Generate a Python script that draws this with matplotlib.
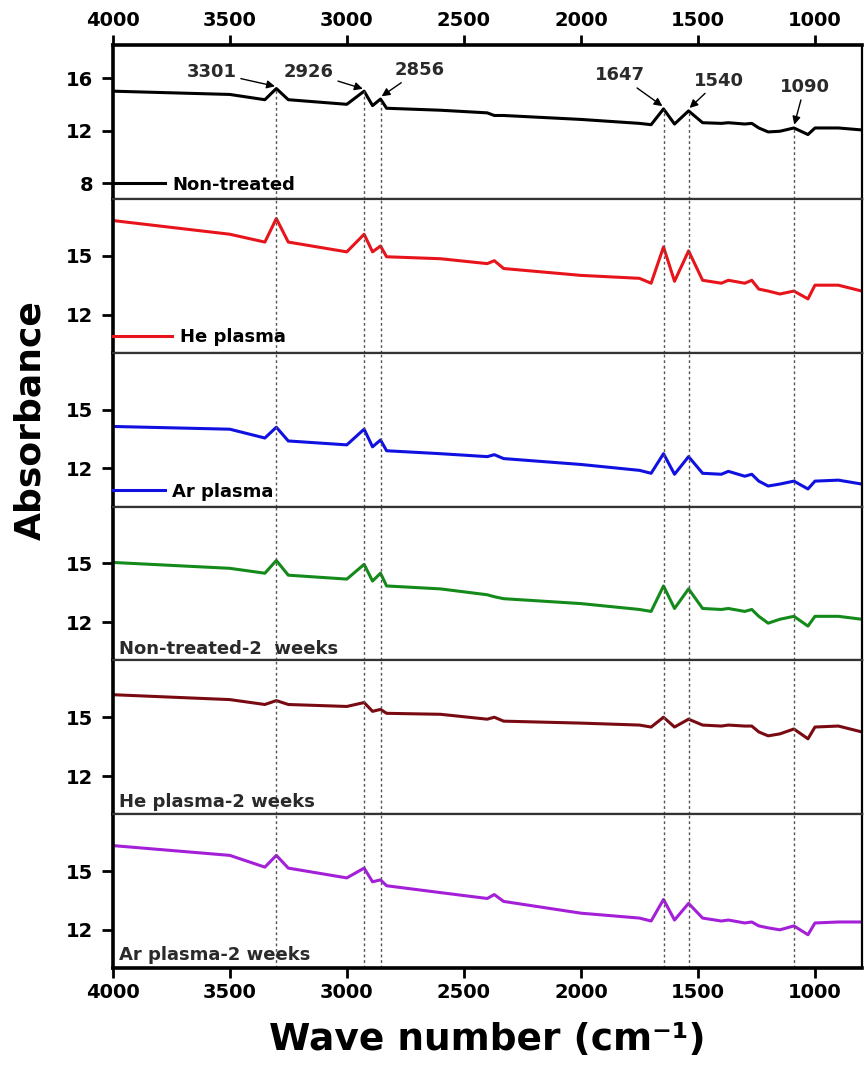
"""
FTIR absorbance spectra of treated and non-treated samples, stacked panels.
"""

import matplotlib
matplotlib.use("Agg")
import matplotlib.pyplot as plt

plt.rcParams["font.family"] = ["DejaVu Sans"]
plt.rcParams["font.weight"] = "bold"

# wavenumber grid (cm-1)
wavenumber = [4000, 3500, 3350, 3301, 3250, 3000, 2926, 2890, 2856, 2830,
              2600, 2400, 2370, 2330, 2000, 1750, 1700, 1647, 1600, 1540,
              1480, 1400, 1370, 1300, 1270, 1240, 1200, 1150, 1090, 1030,
              1000, 900, 800]

non_treated = [15.0, 14.75, 14.35, 15.2, 14.35, 14.0, 15.0, 13.9, 14.4, 13.7,
               13.55, 13.35, 13.15, 13.15, 12.85, 12.55, 12.45, 13.65, 12.5, 13.5,
               12.6, 12.55, 12.6, 12.5, 12.55, 12.2, 11.9, 11.95, 12.2, 11.7,
               12.2, 12.2, 12.05]
he_plasma = [16.8, 16.1, 15.7, 16.9, 15.7, 15.2, 16.1, 15.2, 15.5, 14.95,
             14.85, 14.6, 14.75, 14.35, 14.0, 13.85, 13.6, 15.45, 13.7, 15.25,
             13.75, 13.6, 13.75, 13.6, 13.75, 13.3, 13.2, 13.05, 13.2, 12.8,
             13.5, 13.5, 13.2]
ar_plasma = [14.14, 14.0, 13.55, 14.1, 13.4, 13.2, 14.0, 13.1, 13.45, 12.9,
             12.75, 12.6, 12.7, 12.5, 12.2, 11.9, 11.75, 12.75, 11.7, 12.6,
             11.75, 11.7, 11.85, 11.6, 11.7, 11.35, 11.1, 11.2, 11.35, 10.95,
             11.35, 11.4, 11.2]
non_treated_2w = [15.05, 14.75, 14.5, 15.15, 14.4, 14.2, 14.95, 14.1, 14.5, 13.85,
                  13.7, 13.4, 13.3, 13.2, 12.95, 12.65, 12.55, 13.85, 12.7, 13.7,
                  12.7, 12.65, 12.7, 12.55, 12.65, 12.3, 11.95, 12.15, 12.3, 11.8,
                  12.3, 12.3, 12.15]
he_plasma_2w = [16.15, 15.9, 15.65, 15.85, 15.65, 15.55, 15.75, 15.3, 15.4, 15.2,
                15.15, 14.9, 15.0, 14.8, 14.7, 14.6, 14.5, 15.0, 14.5, 14.9,
                14.6, 14.55, 14.6, 14.55, 14.55, 14.25, 14.05, 14.15, 14.4, 13.9,
                14.5, 14.55, 14.25]
ar_plasma_2w = [16.3, 15.8, 15.2, 15.8, 15.15, 14.65, 15.15, 14.45, 14.55, 14.25,
                13.9, 13.6, 13.8, 13.45, 12.85, 12.6, 12.45, 13.55, 12.5, 13.35,
                12.6, 12.45, 12.5, 12.35, 12.4, 12.2, 12.1, 12.0, 12.2, 11.75,
                12.35, 12.4, 12.4]

labels = ["Non-treated", "He plasma", "Ar plasma",
          "Non-treated-2  weeks", "He plasma-2 weeks", "Ar plasma-2 weeks"]
series = [non_treated, he_plasma, ar_plasma,
          non_treated_2w, he_plasma_2w, ar_plasma_2w]
colors = ["#000000", "#e8141c", "#1010e0", "#138a1a", "#7a0a12", "#a41fd8"]

# marked peaks and where their labels sit (wavenumber, absorbance)
peaks = [3301, 2926, 2856, 1647, 1540, 1090]
peak_values = [15.2, 15.0, 14.4, 13.65, 13.5, 12.2]
peak_text_x = [3577, 3162, 2690, 1835, 1412, 1045]
peak_text_y = [16.45, 16.45, 16.6, 16.2, 15.8, 15.33]

fig, axes = plt.subplots(6, 1, figsize=(8.67, 10.75), dpi=100, sharex=True,
                         gridspec_kw={"hspace": 0})
fig.subplots_adjust(left=0.130, right=0.994, top=0.958, bottom=0.0995)

for i, ax in enumerate(axes):
    line, = ax.plot(wavenumber, series[i], color=colors[i], lw=2.2)

    if i == 0:
        ax.set_ylim(6.8, 18.5)
        ax.set_yticks([8, 12, 16])
        ax.vlines(peaks, 6.8, peak_values, colors="#555555",
                  linestyles=(0, (2, 2)), lw=1)
        for p, v, tx, ty in zip(peaks, peak_values, peak_text_x, peak_text_y):
            ax.annotate(str(p), xy=(p, v + 0.15), xytext=(tx, ty),
                        ha="center", va="center", fontsize=13,
                        fontweight="bold", color="#2a2a2a",
                        arrowprops=dict(arrowstyle="-|>", color="black",
                                        lw=1, mutation_scale=12,
                                        shrinkA=1, shrinkB=1))
    else:
        ax.set_ylim(10.05, 17.9)
        ax.set_yticks([12, 15])
        for p in peaks:
            ax.axvline(p, color="#555555", linestyle=(0, (2, 2)), lw=1)

    if i < 3:
        ax.legend([line], [labels[i]], loc="center left",
                  bbox_to_anchor=(0, [0.093, 0.103, 0.097][i]),
                  frameon=False, handlelength=[2.9, 3.3, 2.9][i],
                  handletextpad=0.4, borderaxespad=0, borderpad=0,
                  prop={"size": 13, "weight": "bold"})
    else:
        ax.text(0.008, [0.077, 0.077, 0.085][i - 3], labels[i],
                transform=ax.transAxes, fontsize=13, fontweight="bold",
                color="#2a2a2a", va="center", ha="left")

    for side in ["left", "right", "top", "bottom"]:
        ax.spines[side].set_linewidth(1.6)
        ax.spines[side].set_color("#333333")
    ax.spines["left"].set_linewidth(2.6)
    ax.spines["left"].set_color("black")
    ax.spines["right"].set_color("black")

    ax.tick_params(axis="y", direction="out", length=8, width=2,
                   labelsize=14, pad=6)
    ax.tick_params(axis="x", bottom=False, top=False,
                   labelbottom=False, labeltop=False)

ax_top = axes[0]
ax_top.tick_params(axis="x", top=True, labeltop=True, direction="out",
                   length=7, width=2, labelsize=14, pad=4)
ax_top.spines["top"].set_linewidth(2.6)
ax_top.spines["top"].set_color("black")

ax_bot = axes[-1]
ax_bot.tick_params(axis="x", bottom=True, labelbottom=True, direction="out",
                   length=7, width=2, labelsize=14, pad=4)
ax_bot.spines["bottom"].set_linewidth(2.6)
ax_bot.spines["bottom"].set_color("black")

ax_bot.set_xlim(4000, 800)
ax_bot.set_xticks([4000, 3500, 3000, 2500, 2000, 1500, 1000])
for lab in ax_top.get_xticklabels() + ax_bot.get_xticklabels():
    lab.set_fontweight("bold")
for ax in axes:
    for lab in ax.get_yticklabels():
        lab.set_fontweight("bold")

fig.text(0.035, 0.609, "Absorbance", rotation=90, ha="center", va="center",
         fontsize=26, fontweight="bold")
fig.text(0.562, 0.033, "Wave number (cm\u207b\u00b9)", ha="center",
         va="center", fontsize=27, fontweight="bold")

fig.savefig("out.png", dpi=100)
plt.close(fig)
